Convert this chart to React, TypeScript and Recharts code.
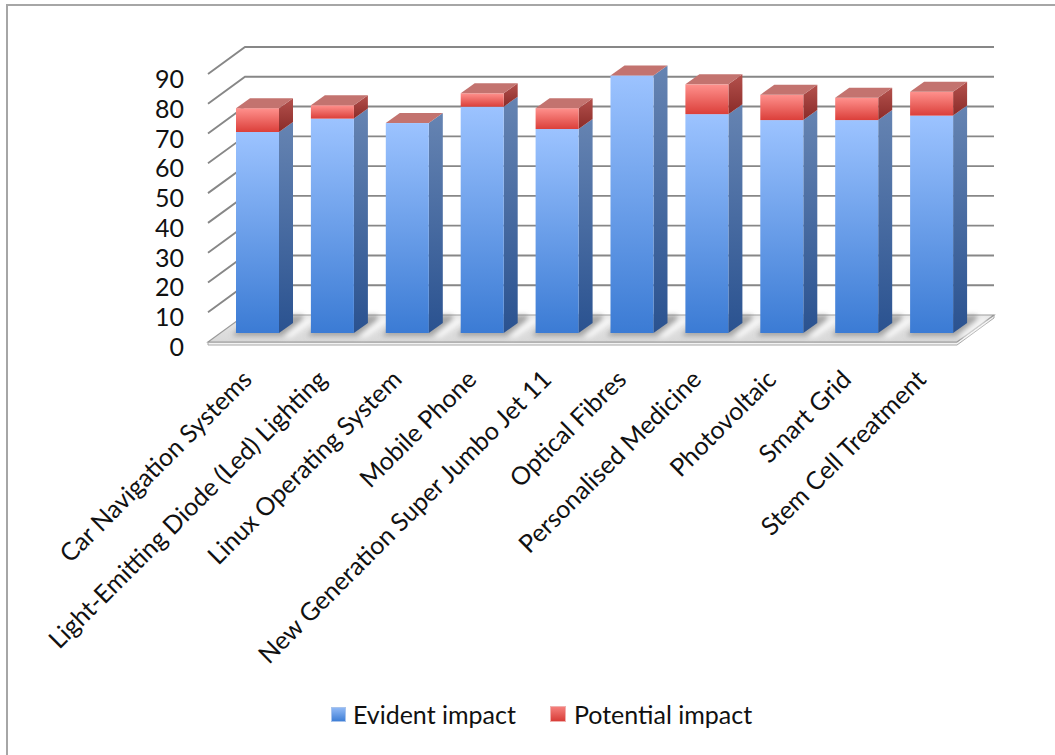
import React from 'react';
import { BarChart, Bar, XAxis, YAxis, CartesianGrid, Legend } from 'recharts';

const categories = [
  'Car Navigation Systems',
  'Light-Emitting Diode (Led) Lighting',
  'Linux Operating System',
  'Mobile Phone',
  'New Generation Super Jumbo Jet 11',
  'Optical Fibres',
  'Personalised Medicine',
  'Photovoltaic',
  'Smart Grid',
  'Stem Cell Treatment',
];
const evidentImpact = [67.5, 72, 70.5, 76, 68.5, 86.5, 73.5, 71.5, 71.5, 73];
const potentialImpact = [8, 4.5, 0, 4.5, 7, 0, 10, 8.5, 7.5, 8];
const yTicks = [0, 10, 20, 30, 40, 50, 60, 70, 80, 90];

const data = categories.map((name, i) => ({
  name,
  evident: evidentImpact[i],
  potential: potentialImpact[i],
}));

const FONT = 'Lato, "Open Sans", sans-serif';
const TEXT = '#111';

// box depth of each column
const DX = 14;
const DY = 10;
// walls: front edge and back edge relative to the column front plane
const FRONT_X = -12;
const FRONT_Y = 9;
const BACK_X = 25;
const BACK_Y = -18;

const Box = ({ x, y, width, height, front, side, top, withTop, shadow }: any) => {
  const r = x + width;
  const b = y + height;
  return (
    <g>
      {shadow && (
        <g filter="url(#floorBlur)">
          <polygon
            points={`${x - 4},${b + 3} ${r + 5},${b + 3} ${r + DX + 10},${b - DY - 3} ${r + DX + 10},${b - DY - 8} ${x + DX},${b - DY - 8}`}
            fill="#7e7e7e"
            opacity={0.6}
          />
          <polygon
            points={`${r + DX + 14},${b - DY - 4} ${r + DX + 22},${b - DY - 4} ${r + 12},${b + 4} ${r + 4},${b + 4}`}
            fill="#ffffff"
            opacity={0.9}
          />
        </g>
      )}
      <polygon
        points={`${r},${y} ${r + DX},${y - DY} ${r + DX},${b - DY} ${r},${b}`}
        fill={`url(#${side})`}
      />
      <rect x={x} y={y} width={width} height={height} fill={`url(#${front})`} />
      {withTop && (
        <polygon
          points={`${x},${y} ${x + DX},${y - DY} ${r + DX},${y - DY} ${r},${y}`}
          fill={top}
        />
      )}
    </g>
  );
};

const EvidentShape = (props: any) => {
  if (!props.height || props.height <= 0) return <g />;
  return (
    <Box
      {...props}
      front="blueFront"
      side="blueSide"
      top="#c3736f"
      withTop={props.payload.potential === 0}
      shadow
    />
  );
};

const PotentialShape = (props: any) => {
  if (!props.height || props.height <= 0) return <g />;
  return <Box {...props} front="redFront" side="redSide" top="#c3736f" withTop />;
};

// back wall lines plus the left side diagonals; the zero line becomes the floor
const WallLine = (props: any) => {
  const { x1, x2, y1, index } = props;
  const isFloor = props.y !== undefined && props.height !== undefined
    ? Math.abs(y1 - (props.y + props.height)) < 0.5
    : index === 0;
  if (isFloor) {
    const fl = `${x1 + FRONT_X},${y1 + FRONT_Y}`;
    const bl = `${x1 + BACK_X},${y1 + BACK_Y}`;
    const br = `${x2 + BACK_X},${y1 + BACK_Y}`;
    const fr = `${x2 + FRONT_X},${y1 + FRONT_Y}`;
    return (
      <g key={`floor-${index}`}>
        <polygon
          points={`${x1 + FRONT_X},${y1 + FRONT_Y} ${x2 + FRONT_X},${y1 + FRONT_Y} ${x2 + BACK_X},${y1 + BACK_Y} ${x2 + BACK_X},${y1 + BACK_Y + 3} ${x2 + FRONT_X},${y1 + FRONT_Y + 3} ${x1 + FRONT_X},${y1 + FRONT_Y + 3}`}
          fill="#f2f2f2"
          stroke="#a8a8a8"
          strokeWidth={1}
        />
        <polygon points={`${fl} ${bl} ${br} ${fr}`} fill="url(#floorFill)" stroke="#9a9a9a" strokeWidth={1.2} />
      </g>
    );
  }
  return (
    <g key={`wall-${index}`}>
      <polyline
        points={`${x1 + FRONT_X},${y1 + FRONT_Y} ${x1 + BACK_X},${y1 + BACK_Y} ${x2 + BACK_X},${y1 + BACK_Y}`}
        fill="none"
        stroke="#878787"
        strokeWidth={1.9}
      />
    </g>
  );
};

const CategoryTick = ({ x, y, payload }: any) => {
  const ax = x - 4;
  return (
    <text
      x={ax}
      y={y}
      transform={`rotate(-45, ${ax}, ${y})`}
      textAnchor="end"
      fontFamily={FONT}
      fontSize={25}
      fill={TEXT}
    >
      {payload.value}
    </text>
  );
};

const ValueTick = ({ x, y, payload }: any) => (
  <text
    x={x}
    y={y + 13}
    textAnchor="end"
    dominantBaseline="central"
    fontFamily={FONT}
    fontSize={25}
    fill={TEXT}
  >
    {payload.value}
  </text>
);

const LegendContent = () => (
  <div
    style={{
      display: 'flex',
      justifyContent: 'center',
      alignItems: 'center',
      height: 40,
      paddingRight: 46,
      fontFamily: FONT,
      fontSize: 25,
      color: TEXT,
    }}
  >
    <span style={{ display: 'flex', alignItems: 'center', marginRight: 34 }}>
      <span
        style={{
          width: 13,
          height: 13,
          marginRight: 7,
          background: 'linear-gradient(#8fb8f5, #3f7fd6)',
          border: '1px solid #a9c4ec',
        }}
      />
      Evident impact
    </span>
    <span style={{ display: 'flex', alignItems: 'center' }}>
      <span
        style={{
          width: 14,
          height: 14,
          marginRight: 8,
          background: 'linear-gradient(#f57f7b, #d83d38)',
          border: '1px solid #f0b0ae',
        }}
      />
      Potential impact
    </span>
  </div>
);

export default function App() {
  return (
    <div style={{ position: 'absolute', left: 0, top: 0, width: 1055, height: 755, overflow: 'hidden', background: '#fff' }}>
      <div
        style={{
          position: 'absolute',
          left: 6,
          top: 4,
          width: 1200,
          height: 900,
          border: '2.5px solid #a6a6a6',
        }}
      />
      <div style={{ position: 'absolute', left: 0, top: 0 }}>
        <BarChart
          width={1055}
          height={755}
          data={data}
          margin={{ top: 65, right: 86, left: 160, bottom: 21 }}
          barSize={43}
        >
          <defs>
            <linearGradient id="blueFront" x1="0" y1="0" x2="0" y2="1">
              <stop offset="0%" stopColor="#9cc3ff" />
              <stop offset="100%" stopColor="#3b7bd4" />
            </linearGradient>
            <linearGradient id="blueSide" x1="0" y1="0" x2="0" y2="1">
              <stop offset="0%" stopColor="#6684b2" />
              <stop offset="100%" stopColor="#2a5290" />
            </linearGradient>
            <linearGradient id="redFront" x1="0" y1="0" x2="0" y2="1">
              <stop offset="0%" stopColor="#ff918d" />
              <stop offset="100%" stopColor="#db3f3a" />
            </linearGradient>
            <linearGradient id="redSide" x1="0" y1="0" x2="0" y2="1">
              <stop offset="0%" stopColor="#b4514d" />
              <stop offset="100%" stopColor="#8a2b28" />
            </linearGradient>
            <linearGradient id="floorFill" x1="0" y1="0" x2="0" y2="1">
              <stop offset="0%" stopColor="#e8e8e8" />
              <stop offset="100%" stopColor="#d8d8d8" />
            </linearGradient>
            <filter id="floorBlur" x="-50%" y="-50%" width="200%" height="200%">
              <feGaussianBlur stdDeviation="2.5" />
            </filter>
          </defs>
          <CartesianGrid vertical={false} horizontal={WallLine} />
          <XAxis
            dataKey="name"
            interval={0}
            axisLine={false}
            tickLine={false}
            tickSize={0}
            tickMargin={48}
            height={361}
            tick={<CategoryTick />}
          />
          <YAxis
            domain={[0, 90]}
            ticks={yTicks}
            axisLine={false}
            tickLine={false}
            tickSize={0}
            tickMargin={36}
            width={60}
            tick={<ValueTick />}
          />
          <Legend verticalAlign="bottom" content={<LegendContent />} />
          <Bar dataKey="evident" name="Evident impact" stackId="a" shape={EvidentShape} isAnimationActive={false} />
          <Bar dataKey="potential" name="Potential impact" stackId="a" shape={PotentialShape} isAnimationActive={false} />
        </BarChart>
      </div>
    </div>
  );
}
